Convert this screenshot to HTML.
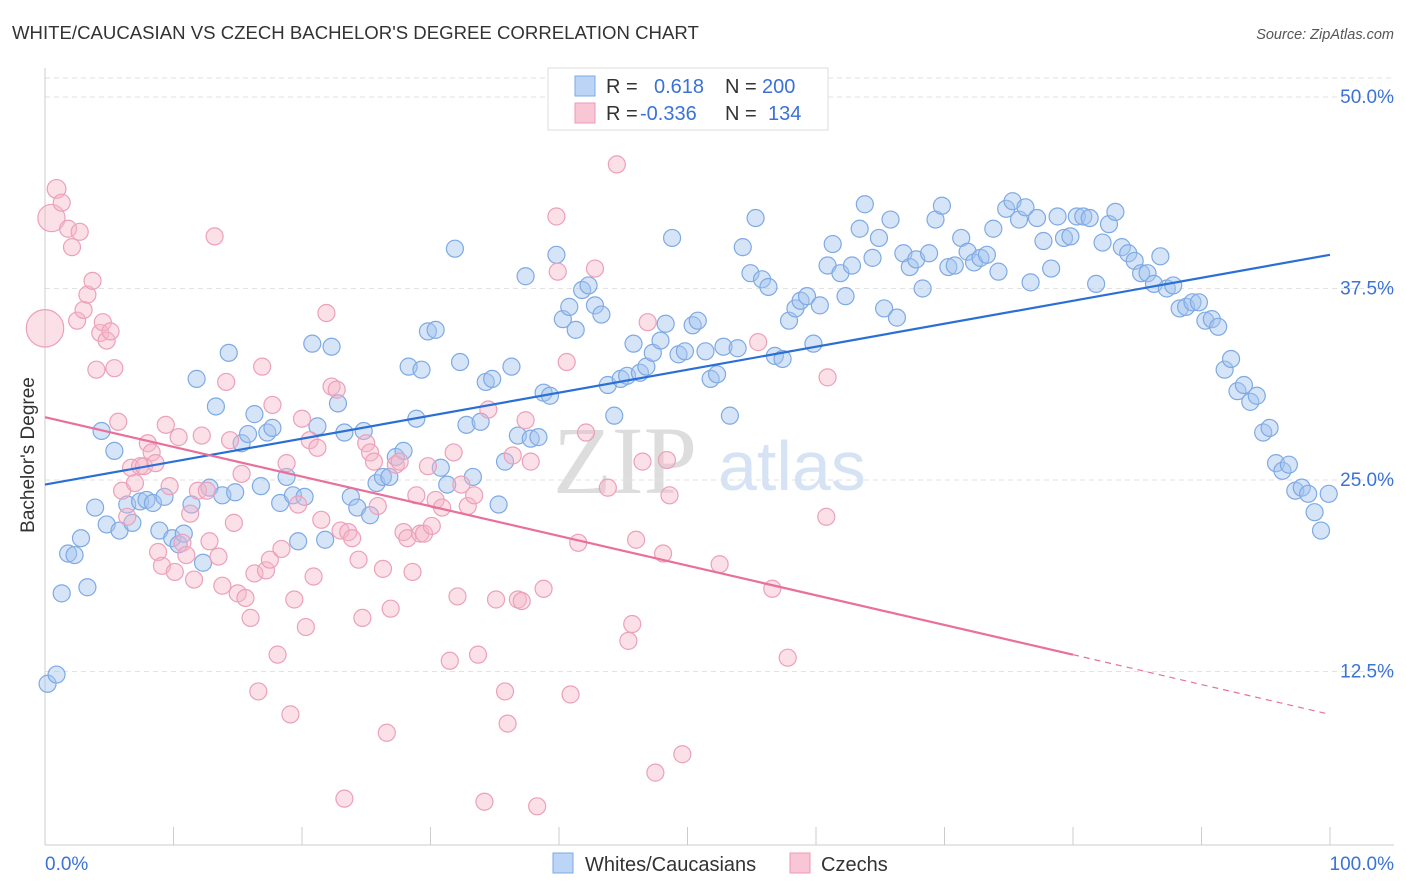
<!DOCTYPE html>
<html><head><meta charset="utf-8"><style>
body{margin:0;background:#fff;font-family:"Liberation Sans",sans-serif;}
svg{display:block}
</style></head><body>
<svg id="chart" width="1406" height="892">
<text x="12" y="39" font-size="18.6" fill="#333">WHITE/CAUCASIAN VS CZECH BACHELOR'S DEGREE CORRELATION CHART</text>
<text x="1394" y="39" font-size="14.5" fill="#555" font-style="italic" text-anchor="end">Source: ZipAtlas.com</text>
<g>
<text x="553" y="493" font-size="96" fill="#ddd" font-family="Liberation Serif,serif">ZIP</text>
<text x="718" y="490" font-size="70" fill="#d5e3f5">atlas</text>
</g>
<g id="grid"></g>
<g id="blue"></g><g id="pink"></g><g id="lines"></g>
<text transform="translate(34,455) rotate(-90)" font-size="19" fill="#333" text-anchor="middle">Bachelor's Degree</text>
<text x="45" y="870" font-size="19" fill="#3a72d8">0.0%</text>
<text x="1394" y="870" font-size="19" fill="#3a72d8" text-anchor="end">100.0%</text>
<g>
<rect x="548" y="68" width="280" height="62" fill="#fff" stroke="#ddd"/>
<rect x="575" y="76" width="20" height="20" fill="#bcd4f6" stroke="#7aaae6"/>
<rect x="575" y="103" width="20" height="20" fill="#f9c6d6" stroke="#ec9ab5"/>
<text x="606" y="93" font-size="20" fill="#333">R =</text>
<text x="654" y="93" font-size="20" fill="#3a72d8">0.618</text>
<text x="725" y="93" font-size="20" fill="#333">N =</text>
<text x="762" y="93" font-size="20" fill="#3a72d8">200</text>
<text x="606" y="120" font-size="20" fill="#333">R =</text>
<text x="640" y="120" font-size="20" fill="#3a72d8">-0.336</text>
<text x="725" y="120" font-size="20" fill="#333">N =</text>
<text x="768" y="120" font-size="20" fill="#3a72d8">134</text>
</g>
<g>
<rect x="553" y="853" width="20" height="20" fill="#bcd4f6" stroke="#7aaae6"/>
<text x="585" y="871" font-size="20" fill="#333">Whites/Caucasians</text>
<rect x="790" y="853" width="20" height="20" fill="#f9c6d6" stroke="#ec9ab5"/>
<text x="821" y="871" font-size="20" fill="#333">Czechs</text>
</g>
</svg>
<script>
const yTicks=[12.5,25,37.5,50];
const yTickLabels=["12.5%","25.0%","37.5%","50.0%"];
const xTicks=[0,10,20,30,40,50,60,70,80,90,100];
const blueX=[0.2,0.9,1.3,1.8,2.3,2.8,3.3,3.9,4.4,4.8,5.4,5.8,6.4,6.8,7.4,7.9,8.4,8.9,9.3,9.9,10.4,10.8,11.4,11.8,12.3,12.8,13.3,13.8,14.3,14.8,15.3,15.8,16.3,16.8,17.3,17.7,18.3,18.8,19.3,19.7,20.2,20.8,21.2,21.8,22.3,22.8,23.3,23.8,24.3,24.8,25.3,25.8,26.3,26.8,27.3,27.9,28.3,28.9,29.3,29.8,30.4,30.8,31.3,31.9,32.3,32.8,33.3,33.9,34.3,34.8,35.3,35.8,36.3,36.8,37.4,37.8,38.4,38.8,39.3,39.8,40.3,40.8,41.3,41.8,42.3,42.8,43.3,43.8,44.3,44.8,45.3,45.8,46.3,46.8,47.3,47.9,48.3,48.8,49.3,49.8,50.4,50.8,51.4,51.8,52.3,52.8,53.3,53.9,54.3,54.9,55.3,55.8,56.3,56.8,57.4,57.9,58.4,58.8,59.3,59.8,60.3,60.9,61.3,61.9,62.3,62.8,63.4,63.8,64.4,64.9,65.3,65.8,66.3,66.8,67.3,67.8,68.3,68.8,69.3,69.8,70.3,70.8,71.3,71.8,72.3,72.8,73.3,73.8,74.2,74.8,75.3,75.8,76.3,76.7,77.2,77.7,78.3,78.8,79.3,79.8,80.3,80.8,81.3,81.8,82.3,82.8,83.3,83.8,84.3,84.8,85.3,85.8,86.3,86.8,87.3,87.8,88.3,88.8,89.3,89.8,90.3,90.8,91.3,91.8,92.3,92.8,93.3,93.8,94.3,94.8,95.3,95.8,96.3,96.8,97.3,97.8,98.3,98.8,99.3,99.9];
const blueY=[11.7,12.3,17.6,20.2,20.1,21.2,18.0,23.2,28.2,22.1,26.9,21.7,23.4,22.2,23.6,23.7,23.5,21.7,23.9,21.2,20.8,21.5,23.4,31.6,19.6,24.5,29.8,24.0,33.3,24.2,27.4,28.0,29.3,24.6,28.1,28.4,23.5,25.2,24.0,21.0,23.9,33.9,28.5,21.1,33.7,30.0,28.1,23.9,23.2,28.2,22.7,24.8,25.2,25.2,26.5,26.9,32.4,29.0,32.2,34.7,34.8,25.8,24.7,40.1,32.7,28.6,25.2,28.8,31.4,31.6,23.4,26.2,32.4,27.9,38.3,27.7,27.8,30.7,30.5,39.7,35.5,36.3,34.8,37.4,37.7,36.4,35.8,31.2,29.2,31.6,31.8,33.9,32.0,32.4,33.3,34.1,35.2,40.8,33.2,33.4,35.1,35.4,33.4,31.6,31.9,33.7,29.2,33.6,40.2,38.5,42.1,38.1,37.6,33.1,32.9,35.4,36.2,36.7,37.0,33.9,36.4,39.0,40.4,38.5,37.0,39.0,41.4,43.0,39.5,40.8,36.2,42.0,35.6,39.8,38.9,39.4,37.5,39.8,42.0,42.9,38.9,39.0,40.8,39.9,39.2,39.5,39.7,41.4,38.6,42.7,43.2,42.0,42.8,37.9,42.1,40.6,38.8,42.2,40.8,40.9,42.2,42.2,42.1,37.8,40.5,41.7,42.5,40.2,39.8,39.3,38.5,38.5,37.8,39.6,37.5,37.7,36.2,36.3,36.6,36.6,35.4,35.5,35.0,32.2,32.9,30.8,31.2,30.1,30.5,28.1,28.4,26.1,25.6,26.0,24.3,24.5,24.1,22.9,21.7,24.1];
const pinkX=[0,0.5,0.9,1.3,1.8,2.1,2.5,2.7,3.0,3.3,3.7,4.0,4.3,4.5,4.8,5.1,5.4,5.7,6.0,6.4,6.7,7.0,7.4,7.7,8.0,8.3,8.6,8.8,9.1,9.4,9.7,10.1,10.4,10.7,11.0,11.3,11.6,11.9,12.2,12.6,12.8,13.2,13.5,13.8,14.1,14.4,14.7,15.0,15.3,15.6,16.0,16.3,16.6,16.9,17.2,17.5,17.7,18.1,18.4,18.8,19.1,19.4,19.7,20.0,20.3,20.6,20.9,21.2,21.5,21.9,22.3,22.7,23.0,23.3,23.6,23.9,24.4,24.7,25.0,25.3,25.6,25.9,26.3,26.6,26.9,27.3,27.6,27.9,28.2,28.6,28.9,29.2,29.5,29.8,30.1,30.4,30.9,31.5,31.8,32.1,32.4,32.9,33.4,33.7,34.2,34.5,35.1,35.8,36.0,36.4,36.8,37.1,37.4,37.8,38.3,38.8,39.8,39.9,40.6,40.9,41.5,42.1,42.8,43.8,44.5,45.4,45.7,46.0,46.5,46.9,47.5,48.1,48.4,48.6,49.6,52.5,55.5,56.6,57.8,60.9,60.8];
const pinkY=[34.9,42.1,44.0,43.1,41.4,40.2,35.4,41.2,36.1,37.1,38.0,32.2,34.6,35.3,34.1,34.7,32.3,28.8,24.3,22.6,25.8,24.8,25.9,25.9,27.4,26.8,26.1,20.3,19.4,28.6,24.6,19.0,27.8,20.9,20.1,22.8,18.5,24.3,27.9,24.3,21.0,40.9,20.0,18.1,31.4,27.6,22.2,17.6,25.4,17.3,16.0,18.9,11.2,32.4,19.1,19.8,29.9,13.6,20.5,26.1,9.7,17.2,23.4,29.0,15.4,27.6,18.7,27.1,22.4,35.9,31.1,30.9,21.7,4.2,21.6,21.2,19.8,16.0,27.4,26.8,26.2,23.3,19.2,8.5,16.6,26.0,26.2,21.6,21.2,19.0,24.0,21.5,21.5,25.9,22.0,23.7,23.2,13.2,26.8,17.4,24.7,23.3,24.0,13.6,4.0,29.6,17.2,11.2,9.1,26.6,17.2,17.1,28.9,26.2,3.7,17.9,42.2,38.6,32.7,11.0,20.9,28.1,38.8,24.5,45.6,14.5,15.6,21.1,26.2,35.3,5.9,20.2,26.3,24.0,7.1,19.5,34.0,17.9,13.4,31.7,22.6];
const pinkSize=[2.2,1.6,1.1];
const blueLine=[24.7,39.7];
const pinkLine=[29.1,13.6,9.7];
const pinkSolidEnd=80;

const X0=45,X1=1330,Y50=97,Y0=863;
const sx=v=>X0+(X1-X0)*v/100;
const sy=v=>Y0-(Y0-Y50)*v/50;
const NS="http://www.w3.org/2000/svg";
function mk(tag,attrs,parent){const e=document.createElementNS(NS,tag);for(const k in attrs)e.setAttribute(k,attrs[k]);parent.appendChild(e);return e;}
const grid=document.getElementById('grid');
mk('line',{x1:45,x2:1394,y1:78,y2:78,stroke:'#e2e2e2','stroke-dasharray':'5,4'},grid);
yTicks.forEach((t,i)=>{
  const l=mk('line',{x1:45,x2:1394,y1:sy(t),y2:sy(t),stroke:'#e2e2e2','stroke-dasharray':'5,4'},grid);
  
  
  const tx=mk('text',{x:1394,y:sy(t)+6,'font-size':19,fill:'#3a72d8','text-anchor':'end'},grid);
  tx.textContent=yTickLabels[i];
  
  
});
const ax=mk('line',{x1:45,x2:1394,y1:845,y2:845,stroke:'#ccc'},grid);


const ay=mk('line',{x1:45,x2:45,y1:68,y2:845,stroke:'#ccc'},grid);


xTicks.forEach(t=>{
  const l=mk('line',{x1:sx(t),x2:sx(t),y1:827,y2:845,stroke:'#ccc'},grid);
  
  
});
const bg=document.getElementById('blue');
blueX.forEach((x,i)=>{
  const c=mk('circle',{cx:sx(x),cy:sy(blueY[i]),r:8.5,fill:'rgba(164,196,240,0.45)',stroke:'#7eaae4','stroke-width':1.2},bg);
  
  
});
const pg=document.getElementById('pink');
pinkX.forEach((x,i)=>{
  const r=8.5*(i<pinkSize.length?pinkSize[i]:1);
  const c=mk('circle',{cx:sx(x),cy:sy(pinkY[i]),r:r,fill:'rgba(246,180,200,0.42)',stroke:'#eca0ba','stroke-width':1.2},pg);
  
  
});
const lg=document.getElementById('lines');
const bl=mk('line',{x1:sx(0),y1:sy(blueLine[0]),x2:sx(100),y2:sy(blueLine[1]),stroke:'#2a6fd6','stroke-width':2.2},lg);


const pl=mk('line',{x1:sx(0),y1:sy(pinkLine[0]),x2:sx(pinkSolidEnd),y2:sy(pinkLine[1]),stroke:'#e8709a','stroke-width':2.2},lg);


const pd=mk('line',{x1:sx(pinkSolidEnd),y1:sy(pinkLine[1]),x2:sx(100),y2:sy(pinkLine[2]),stroke:'#e8709a','stroke-width':1.2,'stroke-dasharray':'6,5'},lg);


</script>
</body></html>
